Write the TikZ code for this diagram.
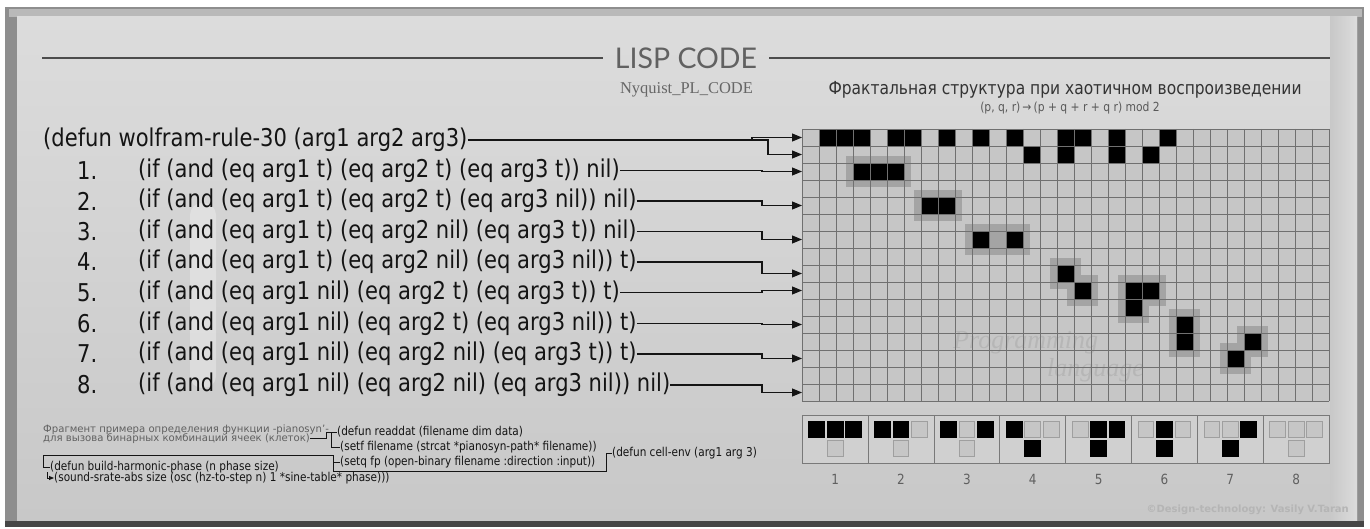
\documentclass[tikz,border=0pt]{standalone}
\usepackage{fontspec}
\setmainfont{DejaVu Sans}
\newfontfamily\codefont[FakeStretch=0.86]{DejaVu Sans}
\newfontfamily\latofont{Lato}
\newfontfamily\serifont{Liberation Serif}
\usetikzlibrary{arrows.meta}
\definecolor{bgtop}{HTML}{DCDCDC}
\definecolor{bgbot}{HTML}{C8C8C8}
\definecolor{frame}{HTML}{8E8E8E}
\definecolor{cellbg}{HTML}{C6C6C6}
\definecolor{gridln}{HTML}{707070}
\definecolor{halo}{HTML}{A4A4A4}
\definecolor{ink}{HTML}{141414}
\definecolor{soft}{HTML}{606060}
\definecolor{wmark}{HTML}{B6B6B6}
\tikzset{
  code/.style={anchor=west,inner sep=0pt,text=ink,font=\codefont\fontsize{24.5}{24.5}\selectfont},
  smallcode/.style={anchor=west,inner sep=0pt,text=ink,font=\codefont\fontsize{12.2}{12.2}\selectfont},
  note/.style={anchor=west,inner sep=0pt,text=soft,font=\fontsize{10.1}{10.1}\selectfont},
  conn/.style={draw=ink,line width=1.1pt},
  arr/.style={conn,-{Triangle[length=10pt,width=8pt]}},
  sarr/.style={conn,line width=0.9pt,-{Triangle[length=5pt,width=4pt]}},
  thin/.style={conn,line width=0.9pt},
  gridline/.style={draw=gridln,line width=0.9pt},
  emptycell/.style={fill=cellbg,draw=gray!75,line width=0.8pt},
  rulebox/.style={draw=gray!95!black,line width=1pt,fill=bgbot!60!bgtop},
  lbl/.style={inner sep=0pt,text=soft,font=\codefont\fontsize{14}{14}\selectfont},
}
\begin{document}
\begin{tikzpicture}[x=1pt,y=-1pt]
\useasboundingbox (0,0) rectangle (1370,529);
% frame
\fill[white] (0,0) rectangle (1370,529);
\fill[frame] (5,7) rectangle (1364,527);
\fill[gray!55] (9,9) rectangle (1362,17);
\shade[top color=bgtop,bottom color=bgbot] (17,17) rectangle (1357,521);
\shade[left color=bgbot,right color=bgtop] (1330,17) rectangle (1357,521);
\fill[gray!55!black] (5,521) rectangle (1364,527);
% faint watermark highlight on the left
\fill[white,opacity=0.3,rounded corners=12pt] (190,203) rectangle (216,388);
% title
\node[inner sep=0pt,text=black!62,font=\latofont\fontsize{28.5}{28.5}\selectfont] (title) at (686,58) {LISP CODE};
\coordinate (tl) at (42,58);
\coordinate (tr) at (1330,58);
\draw[draw=black!70,line width=1.2pt] (tl) -- ([xshift=-12pt]title.west);
\draw[draw=black!70,line width=1.2pt] ([xshift=12pt]title.east) -- (tr);
\node[inner sep=0pt,text=black!60,font=\serifont\fontsize{16.5}{16.5}\selectfont] (sub) at (686.5,90) {Nyquist\_PL\_CODE};
\node[inner sep=0pt,text=black!80,font=\codefont\fontsize{18}{18}\selectfont] (rt) at (1065,90) {Фрактальная структура при хаотичном воспроизведении};
\node[inner sep=0pt,text=black!65,font=\codefont\fontsize{12.5}{12.5}\selectfont] (form) at (1070,108) {(p, q, r)\,→\,(p + q + r + q r) mod 2};
% grid
\fill[cellbg] (802,129) rectangle (1329,401);
\node[anchor=west,inner sep=0pt,text=wmark,font=\serifont\itshape\fontsize{26}{26}\selectfont] (wm1) at (953,343) {Programming};
\node[anchor=west,inner sep=0pt,text=wmark,font=\serifont\itshape\fontsize{26}{26}\selectfont] (wm2) at (1047,370) {language};
\foreach \a/\b/\c/\d in {3/2/5/2, 7/4/8/4, 10/6/12/6, 15/8/15/8, 16/9/16/9, 19/9/20/9, 19/10/19/10, 22/11/22/12, 26/12/26/12, 25/13/25/13}
  \fill[halo] (802+17*\a-7,129+17*\b-7) rectangle (802+17*\c+24,129+17*\d+24);
\foreach \c/\r in {1/0,2/0,3/0,5/0,6/0,8/0,10/0,12/0,15/0,16/0,18/0,21/0,
  13/1,15/1,18/1,20/1, 3/2,4/2,5/2, 7/4,8/4, 10/6,12/6, 15/8, 16/9,19/9,20/9, 19/10, 22/11, 22/12,26/12, 25/13}
  \fill[black] (802+17*\c,129+17*\r) rectangle ++(17,17);
\foreach \i in {0,...,31} \draw[gridline] (802+17*\i,129) -- (802+17*\i,401);
\foreach \j in {0,...,16} \draw[gridline] (802,129+17*\j) -- (1329,129+17*\j);
% row targets
\foreach \r in {0,1,2,4,6,8,9,11,13,15} \coordinate (r\r) at (802,137.5+17*\r);
% code lines
\node[code] (l0) at (43,140) {(defun wolfram-rule-30 (arg1 arg2 arg3)};
\node[code] (n1) at (77,170.5) {1.};
\node[code] (l1) at (138,170.5) {(if (and (eq arg1 t) (eq arg2 t) (eq arg3 t)) nil)};
\node[code] (n2) at (77,201) {2.};
\node[code] (l2) at (138,201) {(if (and (eq arg1 t) (eq arg2 t) (eq arg3 nil)) nil)};
\node[code] (n3) at (77,231.5) {3.};
\node[code] (l3) at (138,231.5) {(if (and (eq arg1 t) (eq arg2 nil) (eq arg3 t)) nil)};
\node[code] (n4) at (77,262) {4.};
\node[code] (l4) at (138,262) {(if (and (eq arg1 t) (eq arg2 nil) (eq arg3 nil)) t)};
\node[code] (n5) at (77,292.5) {5.};
\node[code] (l5) at (138,292.5) {(if (and (eq arg1 nil) (eq arg2 t) (eq arg3 t)) t)};
\node[code] (n6) at (77,323.5) {6.};
\node[code] (l6) at (138,323.5) {(if (and (eq arg1 nil) (eq arg2 t) (eq arg3 nil)) t)};
\node[code] (n7) at (77,354) {7.};
\node[code] (l7) at (138,354) {(if (and (eq arg1 nil) (eq arg2 nil) (eq arg3 t)) t)};
\node[code] (n8) at (77,385) {8.};
\node[code] (l8) at (138,385) {(if (and (eq arg1 nil) (eq arg2 nil) (eq arg3 nil)) nil)};
% connectors
\coordinate (j0) at (768,140);
\coordinate (j0b) at (752,140);
\coordinate (sx) at (762,140);
\draw[arr] (l0.east) -- (j0) |- (r1);
\draw[arr] (j0b) |- (r0);
\foreach \k/\r in {1/2,2/4,3/6,4/8,5/9,6/11,7/13,8/15}
  \draw[arr] (l\k.east) -- (l\k.east -| sx) |- (r\r);
% bottom notes
\node[note] (f1) at (43,429.5) {Фрагмент примера определения функции -pianosyn'-};
\node[note] (f2) at (43,438.5) {для вызова бинарных комбинаций ячеек (клеток)};
\node[smallcode] (rd) at (337,432) {(defun readdat (filename dim data)};
\node[smallcode] (sf) at (340,447) {(setf filename (strcat *pianosyn-path* filename))};
\node[smallcode] (sq) at (340,462) {(setq fp (open-binary filename :direction :input))};
\node[smallcode] (ce) at (612,453) {(defun cell-env (arg1 arg 3)};
\node[smallcode] (bh) at (50,467) {(defun build-harmonic-phase (n phase size)};
\node[smallcode] (ss) at (54,478) {(sound-srate-abs size (osc (hz-to-step n) 1 *sine-table* phase)))};
\coordinate (k1) at (326,438.5);
\coordinate (b1) at (331,432);
\coordinate (bl) at (43,455);
\coordinate (br) at (333,455);
\coordinate (bs) at (333,471);
\coordinate (bu) at (606,471);
\coordinate (bb) at (47,472);
\draw[thin] (f2.east) -- (k1) |- (rd.west);
\draw[thin] (b1) |- (sf.west);
\draw[thin] (bh.west) -| (bl) -- (br) -- (bs) -- (bu) |- (ce.west);
\draw[thin] (sq.west) -| (br);
\draw[sarr] (bb) |- (ss.west);
% rule boxes
\foreach \i/\p/\q/\s/\o in {0/1/1/1/0, 1/1/1/0/0, 2/1/0/1/0, 3/1/0/0/1, 4/0/1/1/1, 5/0/1/0/1, 6/0/0/1/1, 7/0/0/0/0}{
  \pgfmathsetmacro\bx{802.3+65.85*\i}
  \pgfmathtruncatemacro\nn{\i+1}
  \draw[rulebox] (\bx,415) rectangle ++(65.85,48.3);
  \ifnum\p=1 \fill[black] (\bx+6,421) rectangle ++(16.7,17); \else \draw[emptycell] (\bx+6.5,421.5) rectangle ++(15.7,16); \fi
  \ifnum\q=1 \fill[black] (\bx+24.5,421) rectangle ++(16.7,17); \else \draw[emptycell] (\bx+25,421.5) rectangle ++(15.7,16); \fi
  \ifnum\s=1 \fill[black] (\bx+43,421) rectangle ++(16.7,17); \else \draw[emptycell] (\bx+43.5,421.5) rectangle ++(15.7,16); \fi
  \ifnum\o=1 \fill[black] (\bx+24.5,440) rectangle ++(16.7,17); \else \draw[emptycell] (\bx+25,440.5) rectangle ++(15.7,16); \fi
  \node[lbl] (lab\nn) at (\bx+32.9,479) {\nn};
}
\node[anchor=east,inner sep=0pt,text=gray!58,font=\bfseries\fontsize{10}{10}\selectfont] (copy) at (1349,510) {©Design-technology: Vasily V.Taran};
\end{tikzpicture}
\end{document}
